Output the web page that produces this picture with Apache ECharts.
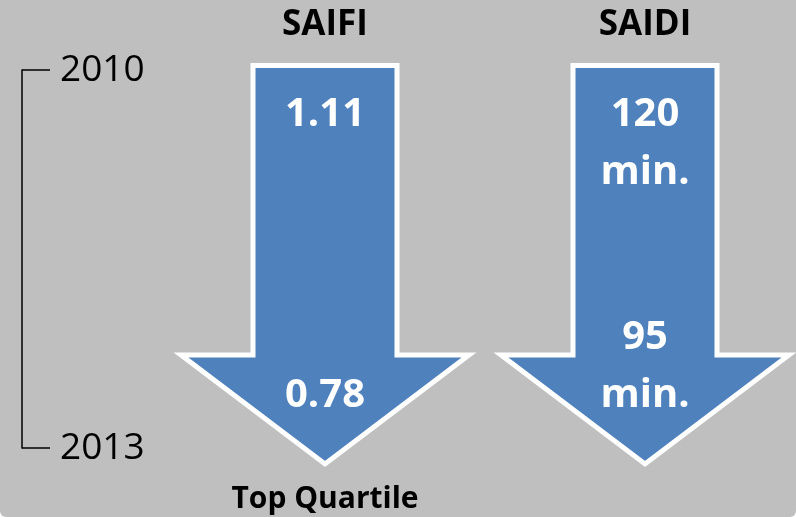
<!DOCTYPE html>
<html>
<head>
<meta charset="utf-8">
<script src="https://cdn.jsdelivr.net/npm/echarts@6/dist/echarts.min.js"></script>
<style>
  html, body { margin: 0; padding: 0; background: #ffffff; }
  #chart { width: 796px; height: 517px; background: #bfbfbf; border-radius: 0 0 6px 6px; overflow: hidden; }
</style>
</head>
<body>
<div id="chart"></div>
<script>
const metrics = ['SAIFI', 'SAIDI'];
const years = [2010, 2013];
const startValues = ['1.11', '120 min.'];
const endValues = ['0.78', '95 min.'];
const notes = ['Top Quartile', ''];

const FONT = '"Open Sans", "Noto Sans", sans-serif';
const BLUE = '#4f81bd';

function renderItem(params, api) {
  const i = api.value(0);
  const p0 = api.coord([i, years[0]]);
  const p1 = api.coord([i, years[1]]);
  const cx = p0[0], yTop = p0[1], yBot = p1[1];
  const band = api.size([1, 0])[0];
  const span = yBot - yTop;
  const sh = band * 0.225, hh = band * 0.45;
  const top = yTop - 0.012 * span;
  const headTop = yTop + 0.754 * span;
  const tip = yTop + 1.042 * span;
  const children = [{
    type: 'polygon',
    shape: { points: [
      [cx - sh, top], [cx + sh, top], [cx + sh, headTop], [cx + hh, headTop],
      [cx, tip], [cx - hh, headTop], [cx - sh, headTop]
    ] },
    style: { fill: BLUE, stroke: '#ffffff', lineWidth: 5, lineJoin: 'miter' }
  }];
  const valStyle = (t, y) => ({
    type: 'text',
    style: { text: t, x: cx, y: y, align: 'center', verticalAlign: 'middle',
      fill: '#ffffff', fontSize: 40, fontWeight: 'bold', fontFamily: FONT }
  });
  const sLines = startValues[i].split(' ');
  sLines.forEach((t, k) => children.push(valStyle(t, top + 63 + 58 * k - 14)));
  const eLines = endValues[i].split(' ');
  const n = eLines.length;
  eLines.forEach((t, k) => children.push(valStyle(t, tip - 54 - 58 * (n - 1 - k) - 14)));
  if (notes[i]) {
    children.push({
      type: 'text',
      style: { text: notes[i], x: cx, y: yBot + 62 - 10.5, align: 'center', verticalAlign: 'middle',
        fill: '#000000', fontSize: 30, fontWeight: 'bold', fontFamily: FONT }
    });
  }
  return { type: 'group', children };
}

const chart = echarts.init(document.getElementById('chart'), null, { renderer: 'canvas' });
chart.setOption({
  animation: false,
  backgroundColor: 'transparent',
  grid: { left: 165, right: -9, top: 70, bottom: 69, containLabel: false, outerBoundsMode: 'none' },
  xAxis: {
    type: 'category', data: metrics, position: 'top',
    axisLine: { show: false }, axisTick: { show: false }, splitLine: { show: false },
    axisLabel: { margin: 27, color: '#000', fontSize: 35, fontWeight: 'bold', fontFamily: FONT }
  },
  yAxis: {
    type: 'value', inverse: true, min: years[0], max: years[1], interval: years[1] - years[0],
    position: 'left', offset: 143,
    axisLine: { show: true, lineStyle: { color: '#000', width: 1.5 } },
    axisTick: { show: true, inside: true, length: 28, lineStyle: { color: '#000', width: 1.5 } },
    splitLine: { show: false },
    axisLabel: { inside: true, margin: 38, color: '#000', fontSize: 37, fontFamily: FONT,
      formatter: v => String(v) }
  },
  series: [{
    type: 'custom',
    renderItem: renderItem,
    data: metrics.map((m, i) => [i]),
    encode: { x: 0 },
    clip: false
  }]
});
</script>
</body>
</html>
